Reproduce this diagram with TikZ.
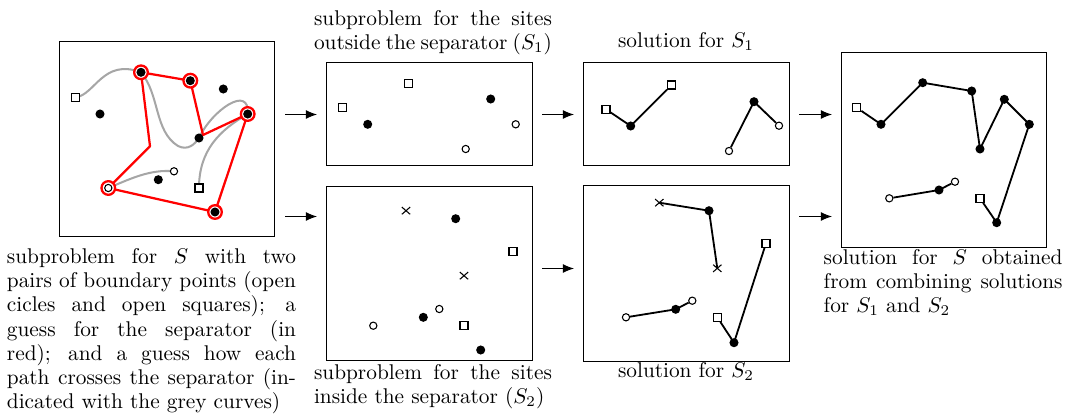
\documentclass[tikz,border=0pt]{standalone}
\usetikzlibrary{arrows.meta,shapes.misc,fit}
\begin{document}
\begin{tikzpicture}[x=0.469pt,y=-0.469pt,
  frame/.style={draw=black, line width=0.47pt, inner sep=0pt},
  dot/.style={circle, fill=black, inner sep=0pt, minimum size=4.25pt},
  opn/.style={circle, draw=black, fill=white, line width=0.5pt, inner sep=0pt, minimum size=3.4pt},
  sqr/.style={rectangle, draw=black, fill=white, line width=0.55pt, inner sep=0pt, minimum size=3.8pt},
  crs/.style={cross out, draw=black, line width=0.5pt, inner sep=0pt, minimum width=3.4pt, minimum height=2.9pt},
  ring/.style={circle, draw=red, line width=1.08pt, fill=white, inner sep=0pt, minimum size=6.4pt},
  sol/.style={draw=black, line width=0.85pt},
  sepline/.style={draw=red, line width=1.05pt, line join=round},
  gry/.style={draw=black!35, line width=0.95pt},
  arr/.style={-{Latex[length=5.2pt,width=4.2pt]}, line width=0.47pt},
  fnt/.style={font=\fontsize{10}{11.35}\selectfont},
  txt/.style={fnt, inner sep=0pt, align=justify}
]
\useasboundingbox (0,0) rectangle (1067,417);

% frames
\node[frame, fit={(59.5,41.5) (274.5,236.5)}] (B1) {};
\node[frame, fit={(326.5,62.5) (532.5,165.5)}] (B2) {};
\node[frame, fit={(326.5,186.5) (532.5,360.5)}] (B3) {};
\node[frame, fit={(583.5,62.5) (789.5,165.5)}] (B4) {};
\node[frame, fit={(583.5,185.5) (789.5,361.5)}] (B5) {};
\node[frame, fit={(841.5,52.5) (1046.5,247.5)}] (B6) {};

% ---- box 1 ----
\coordinate (p1) at (75.7,97.3);
\coordinate (p2) at (100,114);
\coordinate (p3) at (141,72.3);
\coordinate (p4) at (190.3,80.7);
\coordinate (p5) at (223.3,89);
\coordinate (p6) at (247.7,114);
\coordinate (p7) at (199,138);
\coordinate (p8) at (108.3,188);
\coordinate (p9) at (174,171.3);
\coordinate (p10) at (158.3,179.7);
\coordinate (p11) at (199,188);
\coordinate (p12) at (215,212);
\coordinate (c1) at (150,146.3);
\coordinate (c2) at (203,135);

\draw[gry] (p1) .. controls (95,95) and (103,58) .. (p3);
\draw[gry] (p3) .. controls (160,95) and (154,131) .. (178,146) .. controls (188,151) and (195,144) .. (p7);
\draw[gry] (p7) .. controls (212,110) and (250,84) .. (p6);
\draw[gry] (p6) .. controls (220,130) and (199,150) .. (p11);
\draw[gry] (p8) .. controls (130,179) and (150,169) .. (p9);

\draw[sepline] (p3) -- (p4) -- (c2) -- (p6) -- (p12) -- (p8) -- (c1) -- cycle;

\node[ring] (r3) at (p3) {};
\node[ring] (r4) at (p4) {};
\node[ring] (r6) at (p6) {};
\node[ring] (r8) at (p8) {};
\node[ring] (r12) at (p12) {};

\node[sqr] (q1) at (p1) {};
\node[dot] (q2) at (p2) {};
\node[dot] (q3) at (p3) {};
\node[dot] (q4) at (p4) {};
\node[dot] (q5) at (p5) {};
\node[dot] (q6) at (p6) {};
\node[dot] (q7) at (p7) {};
\node[opn] (q8) at (p8) {};
\node[opn] (q9) at (p9) {};
\node[dot] (q10) at (p10) {};
\node[sqr] (q11) at (p11) {};
\node[dot] (q12) at (p12) {};

% ---- box 2 ----
\node[sqr] (s2a) at (342.7,107.7) {};
\node[sqr] (s2b) at (408.3,83.3) {};
\node[dot] (d2a) at (367.7,124.3) {};
\node[dot] (d2b) at (490.7,99) {};
\node[opn] (o2a) at (515.7,124.3) {};
\node[opn] (o2b) at (465.7,149) {};

% ---- box 3 ----
\node[crs] (x3a) at (406,210.7) {};
\node[dot] (d3a) at (455.7,218.7) {};
\node[sqr] (s3a) at (513,251.3) {};
\node[crs] (x3b) at (464,275.7) {};
\node[opn] (o3a) at (439.3,309) {};
\node[dot] (d3b) at (423.3,317.3) {};
\node[opn] (o3b) at (373.3,325.7) {};
\node[sqr] (s3b) at (464,325.7) {};
\node[dot] (d3c) at (480.7,350) {};

% ---- box 4 ----
\node[sqr] (s4a) at (606,109.3) {};
\node[dot] (d4a) at (630.7,126) {};
\node[sqr] (s4b) at (671.7,85) {};
\node[dot] (d4b) at (754,101.7) {};
\node[opn] (o4a) at (779,125.7) {};
\node[opn] (o4b) at (729,151) {};
\draw[sol] (s4a) -- (d4a.center) -- (s4b);
\draw[sol] (o4b) -- (d4b.center) -- (o4a);

% ---- box 5 ----
\node[crs] (x5a) at (659.3,202.7) {};
\node[dot] (d5a) at (709,210.7) {};
\node[crs] (x5b) at (717.3,268.3) {};
\node[sqr] (s5a) at (766,243.3) {};
\node[opn] (o5a) at (692.3,300.7) {};
\node[dot] (d5b) at (675.7,309.3) {};
\node[opn] (o5b) at (626,317.3) {};
\node[sqr] (s5b) at (717.3,317.3) {};
\node[dot] (d5c) at (734,342.7) {};
\draw[sol] (x5a.center) -- (d5a.center) -- (x5b.center);
\draw[sol] (o5b) -- (d5b.center) -- (o5a);
\draw[sol] (s5b) -- (d5c.center) -- (s5a);

% ---- box 6 ----
\node[sqr] (s6a) at (856.7,107.7) {};
\node[dot] (d6a) at (881,124.3) {};
\node[dot] (d6b) at (922.7,82.7) {};
\node[dot] (d6c) at (971.7,91) {};
\node[dot] (d6d) at (980,149) {};
\node[dot] (d6e) at (1004.3,99.3) {};
\node[dot] (d6f) at (1029.3,124.3) {};
\node[dot] (d6g) at (996.7,222.7) {};
\node[sqr] (s6b) at (980,198.3) {};
\node[opn] (o6a) at (889.3,198.3) {};
\node[dot] (d6h) at (939,190) {};
\node[opn] (o6b) at (955,181.7) {};
\draw[sol, line join=round] (s6a) -- (d6a.center) -- (d6b.center) -- (d6c.center) -- (d6d.center) -- (d6e.center) -- (d6f.center) -- (d6g.center) -- (s6b);
\draw[sol] (o6a) -- (d6h.center) -- (o6b);

% ---- arrows ----
\coordinate (a1s) at (285,114.5); \coordinate (a1e) at (317,114.5);
\coordinate (a2s) at (285,216.5); \coordinate (a2e) at (317,216.5);
\coordinate (a3s) at (542,114.5); \coordinate (a3e) at (574,114.5);
\coordinate (a4s) at (542,268.5); \coordinate (a4e) at (574,268.5);
\coordinate (a5s) at (799,114.5); \coordinate (a5e) at (832,114.5);
\coordinate (a6s) at (799,216.5); \coordinate (a6e) at (832,216.5);
\draw[arr] (a1s) -- (a1e);
\draw[arr] (a2s) -- (a2e);
\draw[arr] (a3s) -- (a3e);
\draw[arr] (a4s) -- (a4e);
\draw[arr] (a5s) -- (a5e);
\draw[arr] (a6s) -- (a6e);

% ---- texts ----
\node[txt, anchor=north west, text width=135.6pt] (T1) at (6.5,248)
  {subproblem for $S$ with two\linebreak pairs of boundary points (open\linebreak cicles and open squares); a\linebreak guess for the separator (in\linebreak red); and a guess how each\linebreak path crosses the separator (in-\linebreak dicated with the grey curves)};
\node[txt, anchor=north, text width=111.6pt] (T2) at (433,10)
  {subproblem for the sites\linebreak outside the separator ($S_1$)};
\node[txt, anchor=north, text width=111.6pt] (T3) at (433,364)
  {subproblem for the sites\linebreak inside the separator ($S_2$)};
\node[fnt, inner sep=0pt, anchor=base] (T4) at (686,47.5) {solution for $S_1$};
\node[fnt, inner sep=0pt, anchor=base] (T5) at (686,377.6) {solution for $S_2$};
\node[txt, anchor=north west, text width=112pt] (T6) at (823.3,248.7)
  {solution for $S$ obtained\linebreak from combining solutions\linebreak for $S_1$ and $S_2$};
\end{tikzpicture}
\end{document}
